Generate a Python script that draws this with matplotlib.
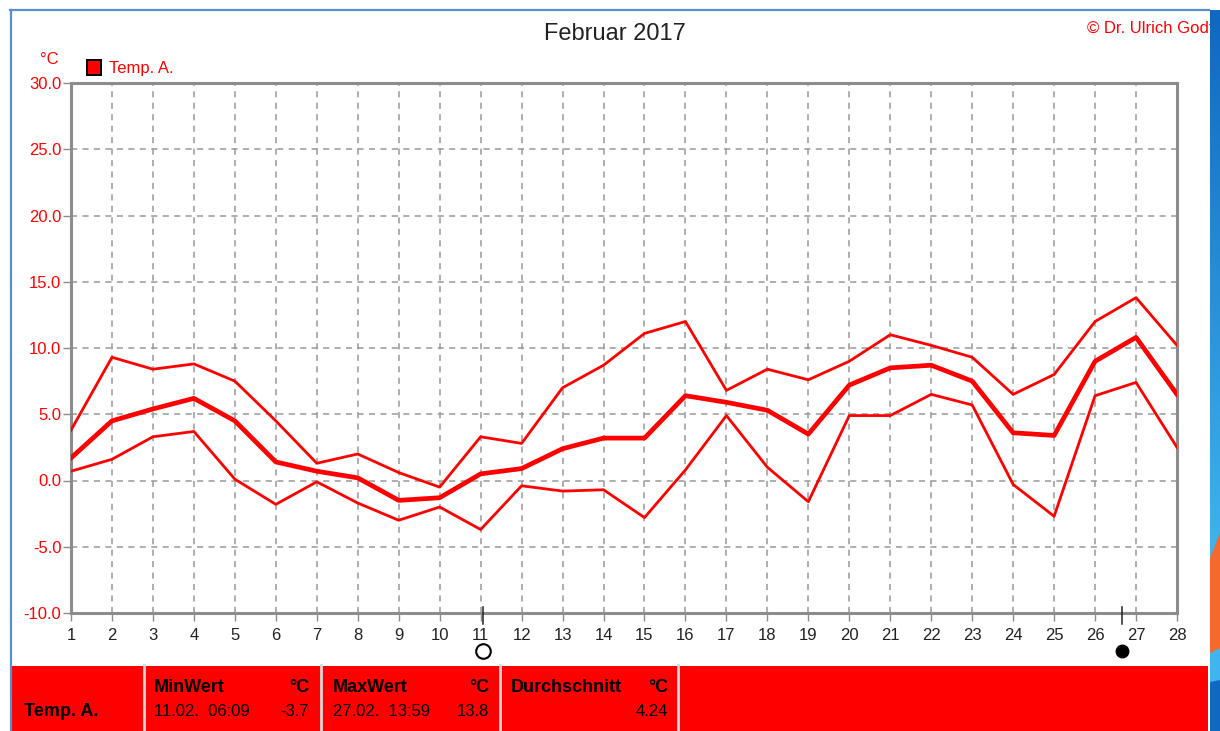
import numpy as np
import matplotlib
matplotlib.use("Agg")
import matplotlib.pyplot as plt
from matplotlib.colors import LinearSegmentedColormap
from matplotlib.patches import Rectangle, Polygon

plt.rcParams["font.family"] = ["Liberation Sans", "DejaVu Sans"]

W, H = 1220, 731

days = np.arange(1, 29)
temp_max = [3.8, 9.3, 8.4, 8.8, 7.5, 4.5, 1.3, 2.0, 0.6, -0.5, 3.3, 2.8, 7.0, 8.7,
            11.1, 12.0, 6.8, 8.4, 7.6, 9.0, 11.0, 10.2, 9.3, 6.5, 8.0, 12.0, 13.8, 10.2]
temp_mean = [1.7, 4.5, 5.4, 6.2, 4.5, 1.4, 0.7, 0.2, -1.5, -1.3, 0.5, 0.9, 2.4, 3.2,
             3.2, 6.4, 5.9, 5.3, 3.5, 7.2, 8.5, 8.7, 7.5, 3.6, 3.4, 9.0, 10.8, 6.5]
temp_min = [0.7, 1.6, 3.3, 3.7, 0.1, -1.8, -0.1, -1.7, -3.0, -2.0, -3.7, -0.4, -0.8, -0.7,
            -2.8, 0.8, 4.9, 1.0, -1.6, 4.9, 4.9, 6.5, 5.7, -0.3, -2.7, 6.4, 7.4, 2.5]
y_ticks = [-10, -5, 0, 5, 10, 15, 20, 25, 30]

moon_full_x = 11.07
moon_new_x = 26.66

RED = "#ff0000"
GRID = "#8c8c8c"


def fx(px):
    return px / W


def fy(py):
    return 1 - py / H


fig = plt.figure(figsize=(W / 100, H / 100), dpi=100, facecolor="white")
ax = fig.add_axes([fx(71), fy(613), (1177 - 71) / W, (613 - 83) / H])

ax.plot(days, temp_max, color=RED, lw=2.0, zorder=3)
ax.plot(days, temp_min, color=RED, lw=2.0, zorder=3)
ax.plot(days, temp_mean, color=RED, lw=3.4, zorder=4)

ax.set_xlim(1, 28)
ax.set_ylim(-10, 30)
ax.set_xticks(days)
ax.set_yticks(y_ticks)
ax.set_yticklabels([f"{v:.1f}" for v in y_ticks], color=RED, fontsize=12)
ax.tick_params(axis="y", length=6, width=1, color=GRID, pad=1)
ax.tick_params(axis="x", length=6, width=1, color=GRID, pad=5, labelsize=12, labelcolor="#222222")
ax.grid(True, color="#999999", ls=(0, (4, 3.5)), lw=1.1)
ax.set_axisbelow(True)
for s in ax.spines.values():
    s.set_color(GRID)
    s.set_linewidth(2.2)

# moon phase markers below the axis
for x in (moon_full_x, moon_new_x):
    ax.plot([x, x], [-9.55, -10.85], color="#222222", lw=1.1, clip_on=False, zorder=6)
ax.plot([moon_full_x], [-12.9], "o", ms=10.5, mfc="white", mec="black", mew=1.5, clip_on=False)
ax.plot([moon_new_x], [-12.9], "o", ms=9, mfc="black", mec="black", clip_on=False)

# header texts
fig.text(fx(614.5), fy(33.5), "Februar 2017", fontsize=17, color="#222222", ha="center", va="center")
fig.text(fx(1087), fy(28), "© Dr. Ulrich Godt", fontsize=12, color=RED, ha="left", va="center")
fig.text(fx(49), fy(60), "°C", fontsize=12, color=RED, ha="center", va="center")
fig.add_artist(Rectangle((fx(87), fy(74.5)), 14 / W, 14 / H, transform=fig.transFigure,
                         fc=RED, ec="black", lw=1.4))
fig.text(fx(109), fy(68), "Temp. A.", fontsize=12, color=RED, ha="left", va="center")

# table strip at the bottom
fig.add_artist(Rectangle((fx(12), 0), (1208 - 12) / W, (H - 666) / H, transform=fig.transFigure,
                         fc=RED, ec="none"))
for xp in (143.5, 320.5, 499.5, 678):
    fig.add_artist(plt.Line2D([fx(xp), fx(xp)], [0, fy(665)], color="#d8d8d8", lw=2))

hdr = dict(fontsize=13, fontweight="bold", color="black", va="center")
val = dict(fontsize=12, color="black", va="center")
fig.text(fx(24), fy(711), "Temp. A.", ha="left", **hdr)
fig.text(fx(154), fy(687), "MinWert", ha="left", **hdr)
fig.text(fx(309), fy(687), "°C", ha="right", **hdr)
fig.text(fx(154), fy(711), "11.02.  06:09", ha="left", **val)
fig.text(fx(309), fy(711), "-3.7", ha="right", **val)
fig.text(fx(333), fy(687), "MaxWert", ha="left", **hdr)
fig.text(fx(489), fy(687), "°C", ha="right", **hdr)
fig.text(fx(333), fy(711), "27.02.  13:59", ha="left", **val)
fig.text(fx(489), fy(711), "13.8", ha="right", **val)
fig.text(fx(511), fy(687), "Durchschnitt", ha="left", **hdr)
fig.text(fx(668), fy(687), "°C", ha="right", **hdr)
fig.text(fx(668), fy(711), "4.24", ha="right", **val)

# window frame and desktop sliver on the right
fig.add_artist(plt.Line2D([fx(10.5), fx(10.5)], [0, fy(10)], color="#5b8fc9", lw=1.6))
fig.add_artist(plt.Line2D([fx(10), fx(1210)], [fy(10), fy(10)], color="#5b8fc9", lw=1.6))

side = fig.add_axes([fx(1210), 0, 10 / W, 1], zorder=5)
side.axis("off")
cmap = LinearSegmentedColormap.from_list("desk", ["#1068c0", "#3fb4ee"])
side.imshow(np.linspace(0, 1, 256).reshape(-1, 1), cmap=cmap, aspect="auto",
            extent=(0, 10, 556, 9), zorder=0)
side.set_xlim(0, 10)
side.set_ylim(H, 0)
side.add_patch(Rectangle((0, 0), 10, 10, fc="white", ec="none", zorder=1))
side.add_patch(Rectangle((0, 556), 10, H - 556, fc="#3fb4ee", ec="none", zorder=1))
side.add_patch(Polygon([(0, 558), (10, 533), (10, 648), (0, 653)], fc="#f5692c", ec="none", zorder=2))
side.add_patch(Polygon([(0, 682), (10, 680), (10, H), (0, H)], fc="#1068c0", ec="none", zorder=2))

fig.savefig("out.png", dpi=100)
